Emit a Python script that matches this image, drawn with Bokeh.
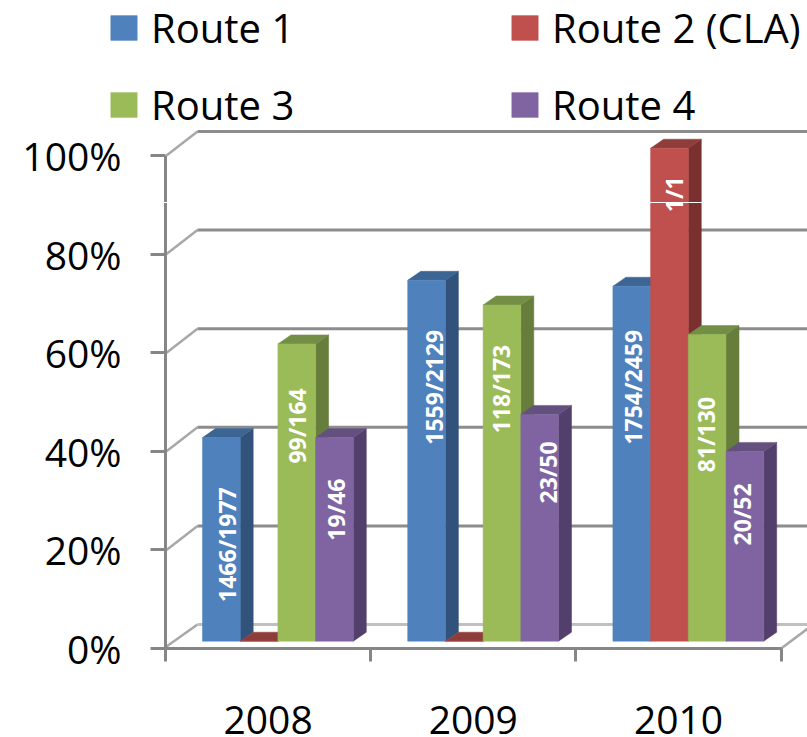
import math
from bokeh.plotting import figure
from bokeh.embed import file_html
from bokeh.resources import INLINE
from bokeh.models import Range1d, FixedTicker, Legend, LegendItem, Span
from bokeh.core.properties import value

years = ["2008", "2009", "2010"]
routes = ["Route 1", "Route 2 (CLA)", "Route 3", "Route 4"]
route1 = [41.3, 73.2, 72.0]
route2 = [0.0, 0.0, 100.0]
route3 = [60.3, 68.2, 62.2]
route4 = [41.3, 46.0, 38.5]
label1 = ["1466/1977", "1559/2129", "1754/2459"]
label2 = ["", "", "1/1"]
label3 = ["99/164", "118/173", "81/130"]
label4 = ["19/46", "23/50", "20/52"]
y_ticks = [0, 20, 40, 60, 80, 100]

series = [route1, route2, route3, route4]
labels = [label1, label2, label3, label4]
front = ["#4f81bd", "#c0504d", "#9bbb59", "#8064a2"]
side = ["#31527b", "#7a302e", "#667d3b", "#533f6b"]
top = ["#3d6594", "#8f3d3a", "#728f45", "#64507f"]

# layout (pixels of the picture)
W, H = 807, 737
LEFT, BASE = 165, 648
PX_X, PX_Y = 205.2, 4.93       # pixels per category / per percent
BAR_W = 37.7 / PX_X
BAR_START = 37.0 / PX_X
BAR_DX, BAR_DY = 13 / PX_X, 9 / PX_Y
BAR_BASE = 7.3 / PX_Y
WALL_DX, WALL_DY = 32 / PX_X, 24 / PX_Y
# label placement per series / year: px right of bar centre, px below bar top to label centre
label_dx = [[6, 7, 1], [0, 0, 5], [0, -1, -1], [2, 8, -3]]
label_drop = [[107, 107, 101], [0, 0, 46], [82, 84, 100], [72, 58, 63]]

p = figure(width=W, height=H, output_backend="svg", toolbar_location=None,
           x_range=Range1d(-LEFT / PX_X, (W - LEFT) / PX_X),
           y_range=Range1d((BASE - H) / PX_Y, BASE / PX_Y),
           min_border=0, min_border_left=0, min_border_right=0, min_border_top=0,
           min_border_bottom=0,
           background_fill_color="white", border_fill_color="white")
p.outline_line_color = None
p.grid.visible = False

# walls and gridlines
xr = (W + 20 - LEFT) / PX_X
for v in y_ticks:
    c = "#c0c0c0" if v == 0 else "#8c8c8c"
    y0 = v + (0.4 if v == 0 else 0)
    p.segment([0.005], [y0], [WALL_DX], [v + WALL_DY], line_color="#a8a8a8", line_width=2.5)
    p.segment([WALL_DX], [v + WALL_DY], [xr], [v + WALL_DY], line_color=c, line_width=3)
p.segment([3.0], [0], [3.0 + WALL_DX], [WALL_DY], line_color="#a8a8a8", line_width=2.5)

# bars, left to right so that every bar covers the one before it
lab_x, lab_y, lab_t = [], [], []
renderers = [None] * 4
for yi in range(3):
    for si in range(4):
        v = series[si][yi]
        x0 = yi + BAR_START + si * BAR_W
        x1 = x0 + BAR_W
        t = v + BAR_BASE
        p.patch([x1, x1 + BAR_DX, x1 + BAR_DX, x1], [BAR_BASE, BAR_BASE + BAR_DY, t + BAR_DY, t],
                fill_color=side[si], line_color=side[si], line_width=0.5)
        p.patch([x0, x1, x1 + BAR_DX, x0 + BAR_DX], [t, t, t + BAR_DY, t + BAR_DY],
                fill_color=top[si], line_color=top[si], line_width=0.5)
        r = p.vbar(x=[(x0 + x1) / 2], width=BAR_W, bottom=BAR_BASE, top=t,
                   fill_color=front[si], line_color=front[si], line_width=0.5)
        if renderers[si] is None:
            renderers[si] = r
        if labels[si][yi]:
            lab_x.append((x0 + x1) / 2 + label_dx[si][yi] / PX_X)
            lab_y.append(t - label_drop[si][yi] / PX_Y)
            lab_t.append(labels[si][yi])

p.text(x=lab_x, y=lab_y, text=lab_t, angle=math.pi / 2, text_align="center",
       text_baseline="middle", text_color="white", text_font=value("Open Sans"),
       text_font_style="bold", text_font_size="23px")

# white scan line running through the picture
p.add_layout(Span(location=(BASE - 202) / PX_Y, dimension="width", line_color="white",
                  line_width=1, level="overlay"))

# axes
ya = p.yaxis[0]
ya.fixed_location = 0
ya.ticker = FixedTicker(ticks=y_ticks)
ya.major_label_overrides = {v: f"{v}%" for v in y_ticks}
ya.bounds = (0, 100)
ya.axis_line_color = "#868686"
ya.axis_line_width = 3
ya.major_tick_line_color = "#868686"
ya.major_tick_line_width = 3
ya.major_tick_out = 15
ya.major_tick_in = 0
ya.minor_tick_line_color = None
ya.major_label_standoff = 29
ya.major_label_text_font = "Open Sans"
ya.major_label_text_font_size = "39px"
ya.major_label_text_color = "black"

xa = p.xaxis[0]
xa.fixed_location = 0
xa.ticker = FixedTicker(ticks=[0.5, 1.5, 2.5], minor_ticks=[0, 1, 2, 3])
xa.major_label_overrides = {0.5: years[0], 1.5: years[1], 2.5: years[2]}
xa.bounds = (0, 3)
xa.axis_line_color = "#868686"
xa.axis_line_width = 3
xa.major_tick_line_color = None
xa.major_tick_out = 0
xa.major_tick_in = 0
xa.minor_tick_line_color = "#868686"
xa.minor_tick_line_width = 3
xa.minor_tick_out = 13
xa.minor_tick_in = 0
xa.major_label_standoff = 44
xa.major_label_text_font = "Open Sans"
xa.major_label_text_font_size = "39px"
xa.major_label_text_color = "black"
xa.major_label_text_line_height = 0.9

# legend
legend = Legend(
    items=[LegendItem(label=routes[i], renderers=[renderers[i]]) for i in range(4)],
    ncols=2, location=(107, H - 132), orientation="horizontal",
    border_line_color=None, background_fill_alpha=0, margin=0, padding=0,
    glyph_width=33, glyph_height=31, label_standoff=11, label_width=335,
    spacing=22, label_text_font="Open Sans", label_text_font_size="40px",
    label_text_color="black")
p.add_layout(legend, "center")

open("out.html", "w").write(file_html(p, INLINE))
